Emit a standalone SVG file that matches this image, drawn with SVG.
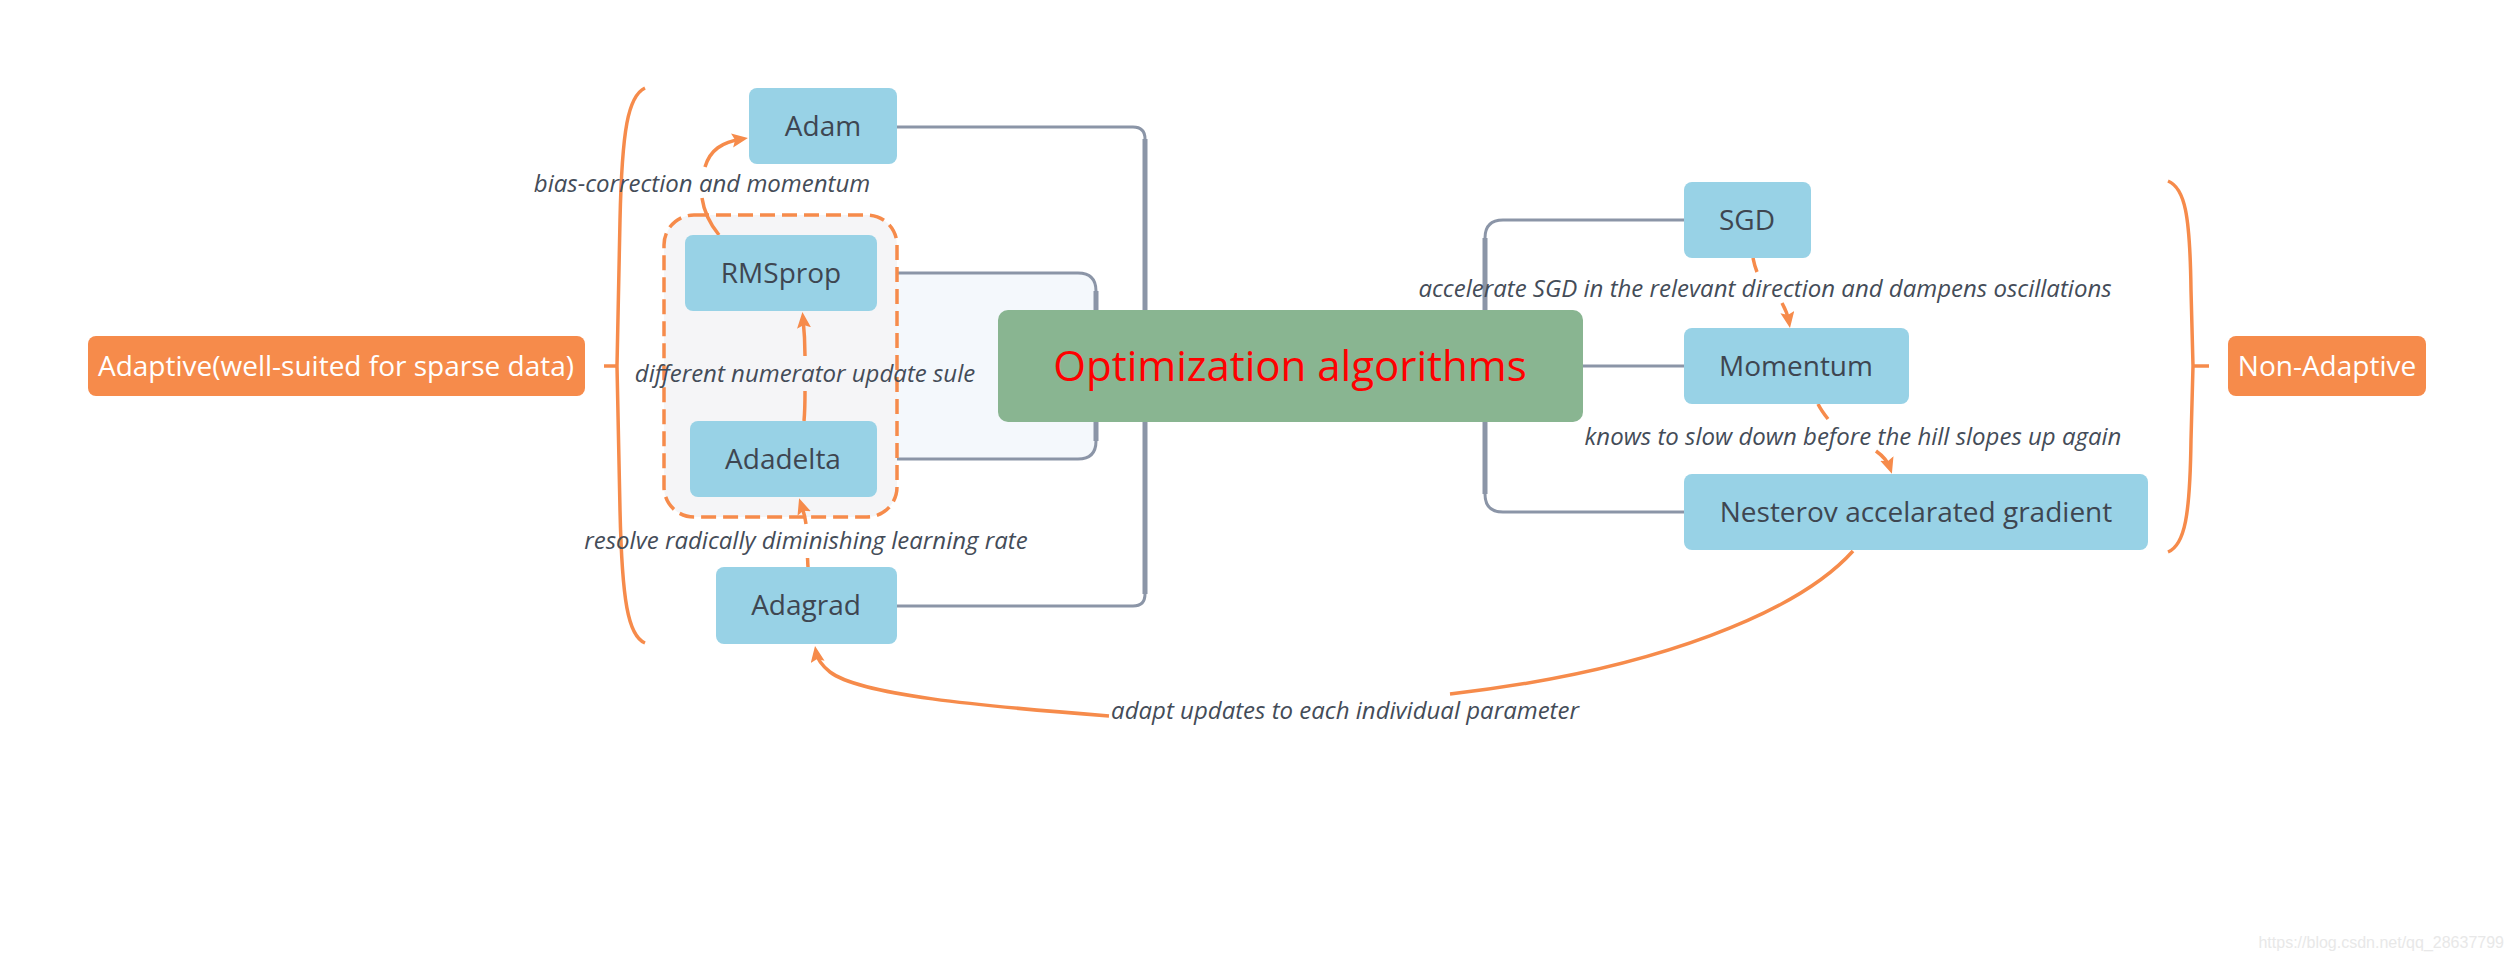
<svg xmlns="http://www.w3.org/2000/svg" width="2515" height="961" viewBox="0 0 2515 961">
<style>
.node{fill:#98d2e6}
.ntxt{font-family:"Open Sans","Noto Sans",sans-serif;font-size:28px;fill:#3e4651;text-anchor:middle}
.otxt{font-family:"Open Sans","Noto Sans",sans-serif;font-size:28px;fill:#ffffff;text-anchor:middle}
.lbl{font-family:"Open Sans","Noto Sans",sans-serif;font-size:24px;font-style:italic;fill:#444c58;text-anchor:middle}
.conn{fill:none;stroke:#8b95a7;stroke-width:3}
.trunk{fill:none;stroke:#8b95a7;stroke-width:5}
.arr{fill:none;stroke:#f68b4b;stroke-width:3.5}
.brace{fill:none;stroke:#f68b4b;stroke-width:3.5}
</style>
<defs>
<marker id="ah" markerUnits="userSpaceOnUse" markerWidth="20" markerHeight="16" refX="10" refY="7" orient="auto">
<path d="M0,0 L16,7 L0,14 L3,7 Z" fill="#f68b4b"/>
</marker>
</defs>
<rect width="2515" height="961" fill="#ffffff"/>

<g id="connectors">
<path d="M877,273 H1076 Q1096,273 1096,293 V439 Q1096,459 1076,459 H877 Z" fill="#f4f8fc" stroke="none"/>
<path class="conn" d="M897,127 H1133 Q1145,127 1145,139 V594 Q1145,606 1133,606 H897"/>
<path class="trunk" d="M1145,139 V594"/>
<path class="conn" d="M877,273 H1078 Q1096,273 1096,291 V441 Q1096,459 1078,459 H877"/>
<path class="trunk" d="M1096,291 V441"/>
<path class="conn" d="M1684,220 H1503 Q1485,220 1485,238 V494 Q1485,512 1503,512 H1684"/>
<path class="trunk" d="M1485,238 V494"/>
<path class="conn" d="M1583,366 H1684"/>
</g>

<g id="group-box">
<rect x="664" y="215" width="233" height="302" rx="30" fill="#f5f5f7" stroke="#f68b4b" stroke-width="3.5" stroke-dasharray="15 7"/>
</g>

<g id="braces">
<path class="brace" d="M645,88 C628,96 622,130 620,220 L617,366 L620,510 C622,600 628,636 645,643"/>
<path class="brace" d="M604,366 H618"/>
<path class="brace" d="M2168,181 C2185,188 2190,215 2191,290 L2193,366 L2191,440 C2190,515 2185,545 2168,552"/>
<path class="brace" d="M2193,366 H2209"/>
</g>

<g id="relations">
<path class="arr" d="M719,235 C710,224 704,212 702,198"/>
<path class="arr" d="M705,167 C710,150 722,142 742,139" marker-end="url(#ah)"/>
<path class="arr" d="M804,421 C805,410 805,400 805,391"/>
<path class="arr" d="M805,356 C805,340 804,328 803,318" marker-end="url(#ah)"/>
<path class="arr" d="M808,567 L807.5,558"/>
<path class="arr" d="M806,524 C805,515 803,510 801,504" marker-end="url(#ah)"/>
<path class="arr" d="M1753,258 C1754,263 1755,267 1757,272"/>
<path class="arr" d="M1782,303 C1786,310 1788,316 1789,322" marker-end="url(#ah)"/>
<path class="arr" d="M1818,404 C1821,410 1824,414 1828,419"/>
<path class="arr" d="M1876,451 C1883,456 1888,462 1890,468" marker-end="url(#ah)"/>
<path class="arr" stroke-width="4" d="M1853,551 C1800,610 1660,670 1450,694"/>
<path class="arr" stroke-width="4" d="M1109,716 C980,706 860,695 830,672 C820,664 817,658 816,652" marker-end="url(#ah)"/>
<text class="lbl" x="702" y="192">bias-correction and momentum</text>
<text class="lbl" x="805" y="382">different numerator update sule</text>
<text class="lbl" x="806" y="549">resolve radically diminishing learning rate</text>
<text class="lbl" x="1765" y="297">accelerate SGD in the relevant direction and dampens oscillations</text>
<text class="lbl" x="1853" y="445">knows to slow down before the hill slopes up again</text>
<text class="lbl" x="1345" y="719">adapt updates to each individual parameter</text>
</g>

<g id="central">
<rect x="998" y="310" width="585" height="112" rx="10" fill="#89b591"/>
<text x="1290" y="381" font-family="'Open Sans','Noto Sans',sans-serif" font-size="42" fill="#ff0000" text-anchor="middle">Optimization algorithms</text>
</g>

<g id="adam"><rect class="node" x="749" y="88" width="148" height="76" rx="8"/><text class="ntxt" x="823" y="136">Adam</text></g>
<g id="rmsprop"><rect class="node" x="685" y="235" width="192" height="76" rx="8"/><text class="ntxt" x="781" y="283">RMSprop</text></g>
<g id="adadelta"><rect class="node" x="690" y="421" width="187" height="76" rx="8"/><text class="ntxt" x="783" y="469">Adadelta</text></g>
<g id="adagrad"><rect class="node" x="716" y="567" width="181" height="77" rx="8"/><text class="ntxt" x="806" y="615">Adagrad</text></g>
<g id="sgd"><rect class="node" x="1684" y="182" width="127" height="76" rx="8"/><text class="ntxt" x="1747" y="230">SGD</text></g>
<g id="momentum"><rect class="node" x="1684" y="328" width="225" height="76" rx="8"/><text class="ntxt" x="1796" y="376">Momentum</text></g>
<g id="nesterov"><rect class="node" x="1684" y="474" width="464" height="76" rx="8"/><text class="ntxt" x="1916" y="522">Nesterov accelarated gradient</text></g>
<g id="adaptive"><rect x="88" y="336" width="497" height="60" rx="8" fill="#f68b4b"/><text class="otxt" x="336" y="376">Adaptive(well-suited for sparse data)</text></g>
<g id="non-adaptive"><rect x="2228" y="336" width="198" height="60" rx="8" fill="#f68b4b"/><text class="otxt" x="2327" y="376">Non-Adaptive</text></g>

<text x="2504" y="948" font-family="'Liberation Sans',Arial,sans-serif" font-size="16" fill="#e8e8e8" text-anchor="end">https://blog.csdn.net/qq_28637799</text>
</svg>
